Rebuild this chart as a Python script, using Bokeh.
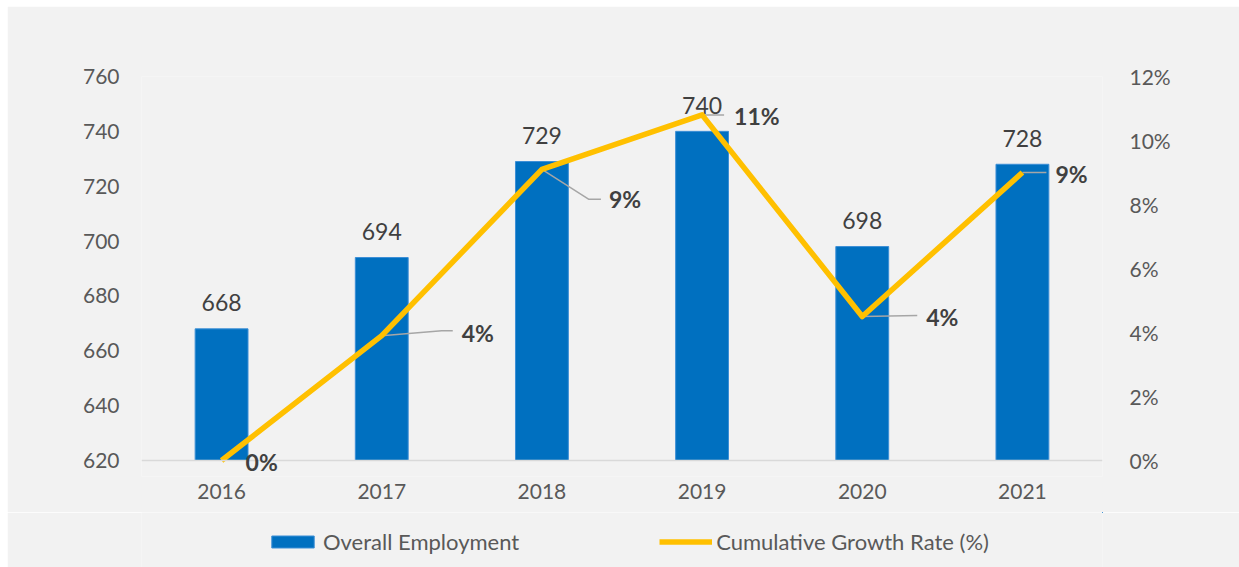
from bokeh.plotting import figure
from bokeh.layouts import column
from bokeh.models import (Range1d, LinearAxis, FixedTicker, PrintfTickFormatter, Legend,
                          LegendItem, LabelSet, ColumnDataSource, Span)
from bokeh.core.properties import value
from bokeh.embed import file_html
from bokeh.resources import INLINE

years = ["2016", "2017", "2018", "2019", "2020", "2021"]
employment = [668, 694, 729, 740, 698, 728]
growth = [0.0, 3.9, 9.1, 10.8, 4.5, 9.0]
growth_labels = ["0%", "4%", "9%", "11%", "4%", "9%"]
emp_ticks = [620, 640, 660, 680, 700, 720, 740, 760]
pct_ticks = [0, 2, 4, 6, 8, 10, 12]

FONT = "Lato"
BG = "#F2F2F2"
AXIS_TXT = "#595959"
LBL_TXT = "#404040"
BAR_COLOR = "#0070C0"
BAR_EDGE = "#3C8FD6"
LINE_COLOR = "#FFC000"
W = 1232
BL, BR, BT, BB = 134, 137, 70, 36
FW, FH = W - BL - BR, 384   # plot area (baseline to top tick)
EXTRA = 16                  # room below the baseline so the "0%" label is not clipped
H = BT + FH + EXTRA + BB
LEG_H = 55

idx = list(range(len(years)))
emp_span = emp_ticks[-1] - emp_ticks[0]
pct_span = pct_ticks[-1] - pct_ticks[0]

p = figure(width=W, height=H,
           min_border_left=BL, min_border_right=BR,
           min_border_top=BT, min_border_bottom=BB,
           x_range=Range1d(-0.5, len(years) - 0.5),
           y_range=Range1d(emp_ticks[0] - EXTRA * emp_span / FH, emp_ticks[-1]),
           output_backend="svg", toolbar_location=None)
p.margin = (6, 0, 0, 7)
p.background_fill_color = BG
p.border_fill_color = BG
p.outline_line_color = None
p.xgrid.visible = False
p.ygrid.visible = False

p.extra_y_ranges = {"pct": Range1d(pct_ticks[0] - EXTRA * pct_span / FH, pct_ticks[-1])}

# baseline
p.add_layout(Span(location=emp_ticks[0], dimension="width",
                  line_color="#D9D9D9", line_width=1.5))

# x axis
xa = p.xaxis[0]
xa.ticker = FixedTicker(ticks=idx)
xa.major_label_overrides = {i: y for i, y in zip(idx, years)}
xa.axis_line_color = None
xa.major_tick_line_color = None
xa.major_tick_out = 0
xa.minor_tick_line_color = None
xa.major_label_standoff = 23 - EXTRA
xa.major_label_text_font = FONT
xa.major_label_text_font_size = "21px"
xa.major_label_text_color = AXIS_TXT

# left axis
ya = p.yaxis[0]
ya.ticker = FixedTicker(ticks=emp_ticks)
ya.axis_line_color = None
ya.major_tick_line_color = None
ya.major_tick_out = 0
ya.minor_tick_line_color = None
ya.major_label_standoff = 22
ya.major_label_text_font = FONT
ya.major_label_text_font_size = "21px"
ya.major_label_text_color = AXIS_TXT

# right axis
ra = LinearAxis(y_range_name="pct", ticker=FixedTicker(ticks=pct_ticks),
                formatter=PrintfTickFormatter(format="%d%%"))
ra.axis_line_color = None
ra.major_tick_line_color = None
ra.major_tick_out = 0
ra.minor_tick_line_color = None
ra.major_label_standoff = 27
ra.major_label_text_font = FONT
ra.major_label_text_font_size = "21px"
ra.major_label_text_color = AXIS_TXT
p.add_layout(ra, "right")

# bars
p.vbar(x=idx, top=employment, bottom=emp_ticks[0], width=0.33,
       fill_color=BAR_COLOR, line_color=BAR_EDGE, line_width=1)
p.text(x=idx, y=employment, text=[str(v) for v in employment],
       text_align="center", text_baseline="alphabetic", y_offset=-26,
       text_font=value(FONT), text_font_size="23px", text_color=LBL_TXT)

# leader lines (pixel offsets converted to data units)
px_x = FW / len(years)
px_y = FH / pct_span
leader_px = [None,
             [(0, 0), (60, -5), (71, -5)],
             [(0, 0), (47, 30), (59, 30)],
             [(0, 0), (22, 0)],
             [(0, 0), (55, -1)],
             [(0, 0), (24, 0)]]
lxs, lys = [], []
for i, g, pts in zip(idx, growth, leader_px):
    if pts is None:
        continue
    lxs.append([i + dx / px_x for dx, dy in pts])
    lys.append([g - dy / px_y for dx, dy in pts])
p.multi_line(xs=lxs, ys=lys, y_range_name="pct", line_color="#A6A6A6", line_width=1.5)

# growth line
p.line(x=idx, y=growth, y_range_name="pct", line_color=LINE_COLOR,
       line_width=5.5, line_join="round")

lab_src = ColumnDataSource(dict(x=idx, y=growth, text=growth_labels,
                                dx=[24, 80, 67, 32, 64, 33],
                                dy=[-1, 3, -30, -1, 0, -1]))
p.add_layout(LabelSet(x="x", y="y", text="text", source=lab_src, y_range_name="pct",
                      x_offset="dx", y_offset="dy", text_align="left",
                      text_baseline="middle", text_font=value(FONT),
                      text_font_size="23px", text_font_style="bold",
                      text_color=LBL_TXT))

# legend strip (separate figure below the chart so the legend is not clipped);
# its key glyphs carry the real series but lie outside this strip's view
lf = figure(width=W, height=LEG_H, x_range=Range1d(-3, -2), y_range=Range1d(0, 1),
            x_axis_type=None, y_axis_type=None,
            min_border_left=BL, min_border_right=BR, min_border_top=0, min_border_bottom=0,
            output_backend="svg", toolbar_location=None)
lf.margin = (0, 0, 0, 7)
lf.background_fill_color = BG
lf.border_fill_color = BG
lf.outline_line_color = None
lf.xgrid.visible = False
lf.ygrid.visible = False
bar_key = lf.vbar(x=idx, top=employment, bottom=emp_ticks[0], width=0.33,
                  fill_color=BAR_COLOR, line_color=BAR_EDGE, line_width=1)
line_key = lf.line(x=idx, y=growth, line_color=LINE_COLOR, line_width=5.5)

legend = Legend(items=[LegendItem(label="Overall Employment", renderers=[bar_key]),
                       LegendItem(label="Cumulative Growth Rate (%)", renderers=[line_key])],
                orientation="horizontal", location=(125, 12), spacing=140,
                glyph_width=53, glyph_height=15, label_standoff=4,
                label_text_font=FONT, label_text_font_size="22px",
                label_text_color=AXIS_TXT, background_fill_alpha=0,
                border_line_alpha=0, padding=0, margin=0)
lf.add_layout(legend, "center")

layout = column(p, lf, spacing=0)
open("out.html", "w").write(file_html(layout, INLINE))
